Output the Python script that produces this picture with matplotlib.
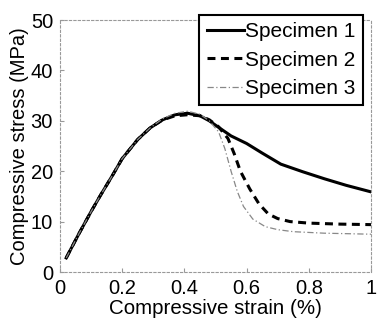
import matplotlib
matplotlib.use("Agg")
import matplotlib.pyplot as plt

plt.rcParams['font.family'] = ['Liberation Sans', 'DejaVu Sans']

# Specimen 1
s1_strain = [0.02, 0.06, 0.10, 0.13, 0.17, 0.20, 0.25, 0.29, 0.33, 0.37, 0.41, 0.45, 0.48, 0.51, 0.55, 0.60, 0.65, 0.71, 0.78, 0.85, 0.92, 1.00]
s1_stress = [2.8, 7.5, 12.0, 15.2, 19.3, 22.5, 26.3, 28.6, 30.2, 31.2, 31.5, 31.0, 30.0, 28.7, 27.0, 25.5, 23.6, 21.4, 19.9, 18.5, 17.2, 15.9]
# Specimen 2
s2_strain = [0.02, 0.06, 0.10, 0.13, 0.17, 0.20, 0.25, 0.29, 0.33, 0.37, 0.41, 0.45, 0.48, 0.51, 0.54, 0.56, 0.58, 0.61, 0.64, 0.67, 0.70, 0.74, 0.80, 0.90, 1.00]
s2_stress = [2.8, 7.5, 12.0, 15.2, 19.3, 22.5, 26.3, 28.6, 30.2, 31.0, 31.2, 31.0, 30.2, 28.8, 26.5, 23.5, 20.0, 16.5, 13.5, 11.5, 10.6, 10.0, 9.7, 9.5, 9.4]
# Specimen 3
s3_strain = [0.02, 0.06, 0.10, 0.13, 0.17, 0.20, 0.25, 0.29, 0.33, 0.37, 0.41, 0.45, 0.48, 0.51, 0.53, 0.55, 0.57, 0.59, 0.62, 0.66, 0.70, 0.75, 0.85, 1.00]
s3_stress = [2.8, 7.5, 12.0, 15.2, 19.3, 22.5, 26.3, 28.6, 30.4, 31.5, 31.9, 31.3, 30.0, 27.8, 24.5, 20.0, 16.0, 13.0, 10.5, 9.0, 8.4, 8.0, 7.7, 7.5]

x_ticks = [0, 0.2, 0.4, 0.6, 0.8, 1.0]
x_labels = ['0', '0.2', '0.4', '0.6', '0.8', '1']
y_ticks = [0, 10, 20, 30, 40, 50]

W, H = 377, 329
fig = plt.figure(figsize=(W / 100, H / 100), dpi=100)
ax = fig.add_axes([60 / W, 1 - 272 / H, 311 / W, 252 / H])

ax.plot(s1_strain, s1_stress, color='black', lw=2.2, ls='-', label='Specimen 1')
ax.plot(s2_strain, s2_stress, color='black', lw=2.2, ls=(0, (2.6, 1.8)), label='Specimen 2')
ax.plot(s3_strain, s3_stress, color='#888888', lw=0.9, ls=(0, (5, 2, 1, 2)), label='Specimen 3')

ax.set_xlim(0, 1)
ax.set_ylim(0, 50)
ax.set_xticks(x_ticks)
ax.set_xticklabels(x_labels)
ax.set_yticks(y_ticks)
for sp in ax.spines.values():
    sp.set_color('#999999')
    sp.set_linestyle((0, (2, 2)))
    sp.set_linewidth(0.8)
ax.tick_params(direction='in', length=3, color='#999999', labelsize=14.5, labelcolor='black', pad=5)
ax.set_xlabel('Compressive strain (%)', fontsize=14.8, labelpad=1)
ax.set_ylabel('Compressive stress (MPa)', fontsize=14.5, labelpad=1)

leg = ax.legend(loc='upper right', bbox_to_anchor=(0.974, 1.02), fontsize=15, frameon=True,
                fancybox=False, edgecolor='black', framealpha=1, handlelength=1.8,
                handletextpad=0.05, borderpad=0.35, labelspacing=0.45, borderaxespad=0)
leg.get_frame().set_linewidth(1.5)

fig.savefig('out.png', dpi=100)
